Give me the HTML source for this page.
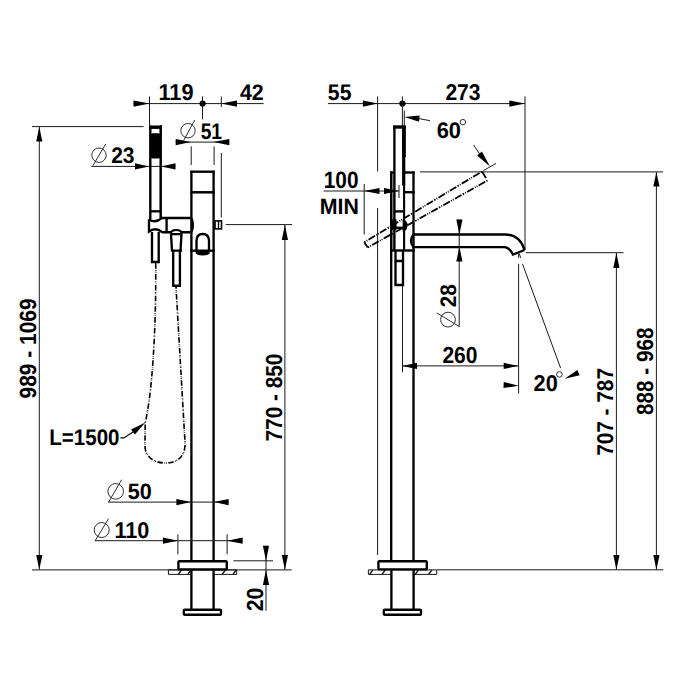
<!DOCTYPE html>
<html><head><meta charset="utf-8"><style>
html,body{margin:0;padding:0;background:#fff;width:700px;height:700px;overflow:hidden}
svg{display:block}
text{font-family:"Liberation Sans",sans-serif;font-weight:bold;fill:#000}
</style></head><body>
<svg width="700" height="700" viewBox="0 0 700 700" text-rendering="geometricPrecision">
<rect width="700" height="700" fill="#fff"/>
<line x1="133.50" y1="103.60" x2="263.60" y2="103.60" stroke="#1a1a1a" stroke-width="1.0" />
<polygon points="149.50,103.60 133.50,100.50 133.50,106.70" fill="#000"/>
<polygon points="221.30,103.60 237.00,106.70 237.00,100.50" fill="#000"/>
<circle cx="202.6" cy="103.6" r="3.1" fill="#000"/>
<line x1="149.50" y1="96.40" x2="149.50" y2="125.00" stroke="#1a1a1a" stroke-width="1.0" />
<line x1="202.50" y1="96.40" x2="202.50" y2="119.30" stroke="#1a1a1a" stroke-width="1.0" />
<line x1="221.30" y1="96.40" x2="221.30" y2="107.00" stroke="#1a1a1a" stroke-width="1.0" />
<line x1="32.00" y1="126.60" x2="143.60" y2="126.60" stroke="#1a1a1a" stroke-width="1.0" />
<line x1="39.30" y1="127.00" x2="39.30" y2="569.60" stroke="#1a1a1a" stroke-width="1.0" />
<polygon points="39.30,127.00 36.20,141.40 42.40,141.40" fill="#000"/>
<polygon points="39.30,569.60 42.40,555.00 36.20,555.00" fill="#000"/>
<line x1="32.00" y1="569.90" x2="291.70" y2="569.90" stroke="#1a1a1a" stroke-width="1.0" />
<circle cx="99" cy="155.2" r="7.2" fill="none" stroke="#1a1a1a" stroke-width="0.9"/>
<line x1="92.90" y1="165.70" x2="105.70" y2="144.00" stroke="#1a1a1a" stroke-width="0.9" />
<line x1="91.40" y1="166.40" x2="175.50" y2="166.40" stroke="#1a1a1a" stroke-width="1.0" />
<polygon points="149.00,166.40 135.00,163.30 135.00,169.50" fill="#000"/>
<polygon points="161.00,166.40 175.50,169.50 175.50,163.30" fill="#000"/>
<circle cx="188" cy="130.7" r="7.2" fill="none" stroke="#1a1a1a" stroke-width="0.9"/>
<line x1="183.60" y1="140.70" x2="194.70" y2="120.00" stroke="#1a1a1a" stroke-width="0.9" />
<line x1="175.70" y1="142.10" x2="229.30" y2="142.10" stroke="#1a1a1a" stroke-width="1.0" />
<polygon points="190.70,142.10 175.70,139.00 175.70,145.20" fill="#000"/>
<polygon points="213.60,142.10 229.30,145.20 229.30,139.00" fill="#000"/>
<line x1="191.20" y1="146.40" x2="191.20" y2="165.00" stroke="#1a1a1a" stroke-width="1.0" />
<line x1="214.10" y1="146.40" x2="214.10" y2="165.00" stroke="#1a1a1a" stroke-width="1.0" />
<line x1="221.30" y1="152.90" x2="221.30" y2="217.50" stroke="#1a1a1a" stroke-width="1.0" />
<line x1="150.30" y1="125.40" x2="150.30" y2="219.00" stroke="#000" stroke-width="2.4" />
<line x1="160.70" y1="125.40" x2="160.70" y2="218.00" stroke="#000" stroke-width="2.5" />
<rect x="149.1" y="125.5" width="12.9" height="3.4" fill="#000"/>
<rect x="150.3" y="133.2" width="10.4" height="25.4" rx="2.5" fill="#000"/>
<line x1="150.30" y1="211.30" x2="160.50" y2="211.30" stroke="#000" stroke-width="2.35" />
<path d="M149,219.5 Q155.5,223.6 161.8,218.2" fill="none" stroke="#000" stroke-width="2.35" />
<path d="M149,219.3 L149,231.5 Q155.5,226.6 162.5,232.3" fill="none" stroke="#000" stroke-width="2.35" />
<path d="M166.6,217.8 L166.6,232.3" fill="none" stroke="#000" stroke-width="2.35" />
<path d="M160.5,218 L191.3,218 M162,232.2 L171,232.2 M181.5,232.2 L191.3,232.2" fill="none" stroke="#000" stroke-width="2.35" />
<path d="M191.3,218 Q194.5,225 191.3,232.2" fill="none" stroke="#000" stroke-width="2.35" />
<path d="M152,232 L152,262 L158.7,262 L158.7,232" fill="none" stroke="#000" stroke-width="2.35" />
<path d="M171,234.6 L171,233.5 C171,228.8 181.5,228.8 181.5,233.5 L181.5,234.6" fill="#fff" stroke="#000" stroke-width="1.9" />
<path d="M170.9,234.1 L181.6,234.1 M171,234.1 L172,250.6 L180.5,250.6 L181.5,234.1 M170.9,250.6 L182,250.6 M173.2,250.6 L173.2,285.7 L179.9,285.7 L179.9,250.6" fill="none" stroke="#000" stroke-width="2.35" />
<line x1="191.40" y1="170.70" x2="191.40" y2="561.00" stroke="#000" stroke-width="2.35" />
<line x1="213.60" y1="170.70" x2="213.60" y2="561.00" stroke="#000" stroke-width="2.35" />
<line x1="190.30" y1="171.70" x2="214.70" y2="171.70" stroke="#000" stroke-width="2.35" />
<line x1="190.30" y1="192.30" x2="214.70" y2="192.30" stroke="#000" stroke-width="2.5" />
<path d="M196.5,251 L196.5,241 Q196.5,234 202.7,234 Q209,234 209,241 L209,251" fill="none" stroke="#000" stroke-width="2.35" />
<ellipse cx="202.7" cy="252.7" rx="7.2" ry="2.8" fill="#000"/>
<line x1="190.00" y1="250.70" x2="215.00" y2="250.70" stroke="#000" stroke-width="2.35" />
<rect x="215.00" y="220.90" width="6.50" height="8.00" rx="0" fill="none" stroke="#000" stroke-width="1.6"/>
<line x1="218.50" y1="221.00" x2="218.50" y2="229.00" stroke="#000" stroke-width="1.4" />
<line x1="225.70" y1="224.60" x2="292.10" y2="224.60" stroke="#1a1a1a" stroke-width="1.0" />
<line x1="284.90" y1="224.70" x2="284.90" y2="569.70" stroke="#1a1a1a" stroke-width="1.0" />
<polygon points="284.90,224.70 281.80,240.00 288.00,240.00" fill="#000"/>
<polygon points="284.90,569.70 288.00,555.10 281.80,555.10" fill="#000"/>
<path d="M155.7,263 C156.3,330 152,395 145.2,422.5 L145,446 C145,456 153,463 165.5,463 C178,463 185,456 185.1,444 L176,287" fill="none" stroke="#000" stroke-width="1.6" stroke-dasharray="5.6 1.5 0.7 0.8 0.7 1.5"/>
<path d="M120.5,437.9 L123.8,437.9 L135,430.8" fill="none" stroke="#000" stroke-width="1.1" />
<polygon points="145.30,422.50 131.11,429.55 134.89,434.45" fill="#000"/>
<circle cx="115.7" cy="491.4" r="7.8" fill="none" stroke="#1a1a1a" stroke-width="0.9"/>
<line x1="108.60" y1="502.00" x2="121.70" y2="479.70" stroke="#1a1a1a" stroke-width="0.9" />
<line x1="108.00" y1="502.10" x2="228.60" y2="502.10" stroke="#1a1a1a" stroke-width="1.0" />
<polygon points="191.00,502.10 176.40,499.00 176.40,505.20" fill="#000"/>
<polygon points="213.90,502.10 228.60,505.20 228.60,499.00" fill="#000"/>
<circle cx="101.7" cy="530" r="7.5" fill="none" stroke="#1a1a1a" stroke-width="0.9"/>
<line x1="95.00" y1="541.00" x2="108.60" y2="518.60" stroke="#1a1a1a" stroke-width="0.9" />
<line x1="95.00" y1="540.70" x2="242.60" y2="540.70" stroke="#1a1a1a" stroke-width="1.0" />
<polygon points="177.90,540.70 162.90,537.60 162.90,543.80" fill="#000"/>
<polygon points="227.10,540.70 242.60,543.80 242.60,537.60" fill="#000"/>
<line x1="177.90" y1="534.30" x2="177.90" y2="554.30" stroke="#1a1a1a" stroke-width="1.0" />
<line x1="227.10" y1="534.30" x2="227.10" y2="554.30" stroke="#1a1a1a" stroke-width="1.0" />
<line x1="168.40" y1="569.90" x2="168.40" y2="574.40" stroke="#1a1a1a" stroke-width="1.0" />
<line x1="236.70" y1="569.90" x2="236.70" y2="574.40" stroke="#1a1a1a" stroke-width="1.0" />
<line x1="168.40" y1="574.40" x2="191.40" y2="574.40" stroke="#1a1a1a" stroke-width="1.0" />
<line x1="213.60" y1="574.40" x2="236.70" y2="574.40" stroke="#1a1a1a" stroke-width="1.0" />
<line x1="168.40" y1="569.90" x2="236.70" y2="569.90" stroke="#1a1a1a" stroke-width="1.0" />
<line x1="178.30" y1="574.40" x2="181.50" y2="570.00" stroke="#1a1a1a" stroke-width="1.4" />
<line x1="187.80" y1="574.40" x2="191.00" y2="570.00" stroke="#1a1a1a" stroke-width="1.4" />
<line x1="222.20" y1="574.40" x2="225.40" y2="570.00" stroke="#1a1a1a" stroke-width="1.4" />
<line x1="233.00" y1="574.40" x2="236.20" y2="570.00" stroke="#1a1a1a" stroke-width="1.4" />
<line x1="191.40" y1="569.00" x2="191.40" y2="609.50" stroke="#000" stroke-width="2.35" />
<line x1="213.60" y1="569.00" x2="213.60" y2="609.50" stroke="#000" stroke-width="2.35" />
<rect x="178.40" y="561.20" width="48.40" height="8.20" rx="1" fill="#fff" stroke="#000" stroke-width="2.35"/>
<rect x="183.80" y="609.70" width="37.20" height="5.00" rx="1" fill="#fff" stroke="#000" stroke-width="2.35"/>
<line x1="233.40" y1="560.80" x2="273.00" y2="560.80" stroke="#1a1a1a" stroke-width="1.0" />
<line x1="266.00" y1="545.70" x2="266.00" y2="610.90" stroke="#1a1a1a" stroke-width="1.0" />
<polygon points="266.00,560.80 269.10,545.70 262.90,545.70" fill="#000"/>
<polygon points="266.00,569.70 262.90,585.10 269.10,585.10" fill="#000"/>
<line x1="327.90" y1="103.60" x2="525.00" y2="103.60" stroke="#1a1a1a" stroke-width="1.0" />
<polygon points="377.90,103.60 362.90,100.50 362.90,106.70" fill="#000"/>
<polygon points="525.00,103.60 509.30,100.50 509.30,106.70" fill="#000"/>
<circle cx="402.4" cy="103.6" r="3.1" fill="#000"/>
<line x1="402.40" y1="96.40" x2="402.40" y2="126.00" stroke="#1a1a1a" stroke-width="1.0" />
<line x1="377.60" y1="96.40" x2="377.60" y2="171.50" stroke="#1a1a1a" stroke-width="1.0" />
<line x1="377.60" y1="208.00" x2="377.60" y2="555.00" stroke="#1a1a1a" stroke-width="1.0" />
<line x1="525.00" y1="96.40" x2="525.00" y2="250.00" stroke="#1a1a1a" stroke-width="1.0" />
<line x1="404.30" y1="110.70" x2="404.30" y2="126.00" stroke="#1a1a1a" stroke-width="1.0" />
<polygon points="404.30,117.10 418.99,121.68 419.61,115.52" fill="#000"/>
<line x1="419.00" y1="118.60" x2="430.00" y2="120.70" stroke="#1a1a1a" stroke-width="1.0" />
<circle cx="462.9" cy="122.1" r="2.7" fill="none" stroke="#1a1a1a" stroke-width="0.9"/>
<line x1="473.60" y1="145.00" x2="480.00" y2="154.50" stroke="#1a1a1a" stroke-width="1.0" />
<polygon points="490.00,166.40 481.90,151.54 477.10,155.46" fill="#000"/>
<line x1="323.60" y1="191.00" x2="399.00" y2="191.00" stroke="#1a1a1a" stroke-width="1.0" />
<polygon points="364.20,191.00 379.50,194.10 379.50,187.90" fill="#000"/>
<polygon points="399.00,191.00 384.00,187.90 384.00,194.10" fill="#000"/>
<line x1="399.00" y1="185.00" x2="399.00" y2="198.00" stroke="#1a1a1a" stroke-width="1.0" />
<line x1="364.20" y1="184.00" x2="364.20" y2="234.50" stroke="#1a1a1a" stroke-width="1.0" />
<line x1="394.40" y1="126.00" x2="394.40" y2="250.50" stroke="#000" stroke-width="2.35" />
<rect x="393.1" y="125.3" width="12.5" height="3.4" fill="#000"/>
<rect x="402.2" y="126" width="3.6" height="31" fill="#000"/>
<rect x="402.1" y="126" width="3.1" height="59.6" fill="#000"/>
<line x1="404.10" y1="126.00" x2="404.10" y2="250.50" stroke="#000" stroke-width="2.1" />
<line x1="394.40" y1="211.40" x2="404.10" y2="211.40" stroke="#000" stroke-width="2.35" />
<line x1="394.40" y1="227.80" x2="404.10" y2="227.80" stroke="#000" stroke-width="2.35" />
<path d="M390.8,219.4 L396.6,219.4 L396.6,229.9 L390.8,229.9 Z" fill="#000"/>
<path d="M402.6,219.4 L404.6,219.4 Q407.8,222.5 407.7,225.5 Q407.5,229 404.6,231.6 L402.6,231.6 Z" fill="#000"/>
<line x1="393.20" y1="172.00" x2="393.20" y2="250.00" stroke="#1a1a1a" stroke-width="0.8" />
<line x1="391.20" y1="171.50" x2="391.20" y2="561.00" stroke="#000" stroke-width="2.35" />
<line x1="413.50" y1="171.50" x2="413.50" y2="561.00" stroke="#000" stroke-width="2.35" />
<line x1="390.10" y1="172.50" x2="394.00" y2="172.50" stroke="#000" stroke-width="2.35" />
<line x1="403.00" y1="172.50" x2="414.60" y2="172.50" stroke="#000" stroke-width="2.35" />
<line x1="403.00" y1="192.20" x2="414.60" y2="192.20" stroke="#000" stroke-width="2.4" />
<line x1="390.10" y1="250.50" x2="414.60" y2="250.50" stroke="#000" stroke-width="2.35" />
<path d="M395.5,250.5 L395.5,285 L403,285 L403,250.5 M395.5,261 L403,261" fill="none" stroke="#000" stroke-width="2.35" />
<line x1="402.50" y1="285.00" x2="402.50" y2="372.30" stroke="#1a1a1a" stroke-width="1.0" />
<path d="M413.5,234.5 L505.7,234.5 Q520,235 524.6,250 M413.5,247.1 L505,247.1 Q510,248 512.9,254.6 L524.6,250 M413.5,234.5 Q408.5,240.8 413.5,247.1" fill="none" stroke="#000" stroke-width="2.35" />
<path d="M364.25,242.25 L482,171.5" fill="none" stroke="#000" stroke-width="1.8" stroke-dasharray="1.5 1.2 0.9 1.4 7.5 1.4 0.9 1.2 0.9 1.4 7.5 1.4"/>
<path d="M367.75,247.5 L487.5,180.5" fill="none" stroke="#000" stroke-width="1.8" stroke-dasharray="1.5 1.2 0.9 1.4 7.5 1.4 0.9 1.2 0.9 1.4 7.5 1.4"/>
<path d="M364.25,242.25 L367.75,247.5 M482,171.5 L486,178" fill="none" stroke="#000" stroke-width="1.8" />
<line x1="483.50" y1="170.50" x2="496.00" y2="163.50" stroke="#1a1a1a" stroke-width="1.0" />
<line x1="459.20" y1="219.40" x2="459.20" y2="326.70" stroke="#1a1a1a" stroke-width="1.0" />
<polygon points="459.40,234.50 462.50,219.40 456.30,219.40" fill="#000"/>
<polygon points="459.40,247.10 456.30,261.40 462.50,261.40" fill="#000"/>
<circle cx="448" cy="319.6" r="7.4" fill="none" stroke="#1a1a1a" stroke-width="0.9"/>
<line x1="436.80" y1="312.90" x2="459.50" y2="326.70" stroke="#1a1a1a" stroke-width="0.9" />
<line x1="402.10" y1="365.90" x2="518.30" y2="365.90" stroke="#1a1a1a" stroke-width="1.0" />
<polygon points="402.10,365.90 417.00,369.00 417.00,362.80" fill="#000"/>
<polygon points="518.30,365.90 503.70,362.80 503.70,369.00" fill="#000"/>
<line x1="518.60" y1="253.60" x2="518.60" y2="257.90" stroke="#1a1a1a" stroke-width="1.0" />
<line x1="518.60" y1="263.90" x2="518.60" y2="393.60" stroke="#1a1a1a" stroke-width="1.0" />
<polygon points="518.60,385.70 503.74,381.90 503.46,388.10" fill="#000"/>
<line x1="519.30" y1="253.60" x2="520.70" y2="257.90" stroke="#1a1a1a" stroke-width="1.0" />
<line x1="522.50" y1="263.90" x2="560.60" y2="368.10" stroke="#1a1a1a" stroke-width="1.0" />
<circle cx="559.4" cy="374.4" r="2.8" fill="none" stroke="#1a1a1a" stroke-width="0.9"/>
<polygon points="564.6,378.7 577.4,370.1 579.7,375.3" fill="#000"/>
<line x1="525.70" y1="252.70" x2="623.60" y2="252.70" stroke="#1a1a1a" stroke-width="1.0" />
<line x1="616.40" y1="253.00" x2="616.40" y2="569.70" stroke="#1a1a1a" stroke-width="1.0" />
<polygon points="616.40,253.00 613.30,267.90 619.50,267.90" fill="#000"/>
<polygon points="616.40,569.70 619.50,555.00 613.30,555.00" fill="#000"/>
<line x1="420.00" y1="171.90" x2="663.10" y2="171.90" stroke="#1a1a1a" stroke-width="1.0" />
<line x1="656.40" y1="172.00" x2="656.40" y2="569.70" stroke="#1a1a1a" stroke-width="1.0" />
<polygon points="656.40,172.00 653.30,186.40 659.50,186.40" fill="#000"/>
<polygon points="656.40,569.70 659.50,555.00 653.30,555.00" fill="#000"/>
<line x1="437.00" y1="569.80" x2="663.30" y2="569.80" stroke="#1a1a1a" stroke-width="1.0" />
<line x1="368.40" y1="569.90" x2="368.40" y2="574.40" stroke="#1a1a1a" stroke-width="1.0" />
<line x1="436.70" y1="569.90" x2="436.70" y2="574.40" stroke="#1a1a1a" stroke-width="1.0" />
<line x1="368.40" y1="574.40" x2="391.40" y2="574.40" stroke="#1a1a1a" stroke-width="1.0" />
<line x1="413.60" y1="574.40" x2="436.70" y2="574.40" stroke="#1a1a1a" stroke-width="1.0" />
<line x1="368.40" y1="569.90" x2="436.70" y2="569.90" stroke="#1a1a1a" stroke-width="1.0" />
<line x1="369.60" y1="574.40" x2="372.80" y2="570.00" stroke="#1a1a1a" stroke-width="1.4" />
<line x1="382.00" y1="574.40" x2="385.20" y2="570.00" stroke="#1a1a1a" stroke-width="1.4" />
<line x1="415.20" y1="574.40" x2="418.40" y2="570.00" stroke="#1a1a1a" stroke-width="1.4" />
<line x1="428.60" y1="574.40" x2="431.80" y2="570.00" stroke="#1a1a1a" stroke-width="1.4" />
<line x1="391.40" y1="569.00" x2="391.40" y2="609.50" stroke="#000" stroke-width="2.35" />
<line x1="413.60" y1="569.00" x2="413.60" y2="609.50" stroke="#000" stroke-width="2.35" />
<rect x="378.40" y="561.20" width="48.40" height="8.20" rx="1" fill="#fff" stroke="#000" stroke-width="2.35"/>
<rect x="383.80" y="609.70" width="37.20" height="5.00" rx="1" fill="#fff" stroke="#000" stroke-width="2.35"/>
<text transform="translate(158.49,100.36) scale(0.9419,1)" font-size="23.06">119</text>
<text transform="translate(239.93,100.4) scale(0.9538,1)" font-size="22.39">42</text>
<text transform="translate(111.18,162.73) scale(0.9366,1)" font-size="22.43">23</text>
<text transform="translate(200.63,138.76) scale(0.8508,1)" font-size="22.63">51</text>
<text transform="translate(36.35,398.41) rotate(-90) scale(0.8924,1)" font-size="23.45">989 - 1069</text>
<text transform="translate(281.85,441.51) rotate(-90) scale(0.8978,1)" font-size="23.18">770 - 850</text>
<text transform="translate(49.3,445.45) scale(0.9077,1)" font-size="22.61">L=1500</text>
<text transform="translate(127.82,498.76) scale(0.9727,1)" font-size="22.22">50</text>
<text transform="translate(114.4,537.65) scale(0.9485,1)" font-size="22.77">110</text>
<text transform="translate(262.88,611.3) rotate(-90) scale(0.9147,1)" font-size="23.31">20</text>
<text transform="translate(327.84,100.36) scale(0.9433,1)" font-size="22.49">55</text>
<text transform="translate(445.39,100.45) scale(0.9243,1)" font-size="22.84">273</text>
<text transform="translate(436.64,138.45) scale(0.9632,1)" font-size="22.64">60</text>
<text transform="translate(323.76,188.24) scale(0.8767,1)" font-size="23.74">100</text>
<text transform="translate(319.75,213.7) scale(0.9608,1)" font-size="22.22">MIN</text>
<text transform="translate(455.85,307.31) rotate(-90) scale(0.9281,1)" font-size="22.46">28</text>
<text transform="translate(442.4,362.66) scale(0.9071,1)" font-size="23.16">260</text>
<text transform="translate(533.57,390.85) scale(0.9486,1)" font-size="22.88">20</text>
<text transform="translate(613.05,455.8) rotate(-90) scale(0.9079,1)" font-size="22.88">707 - 787</text>
<text transform="translate(653.35,414.96) rotate(-90) scale(0.8879,1)" font-size="23.3">888 - 968</text>
</svg></body></html>
